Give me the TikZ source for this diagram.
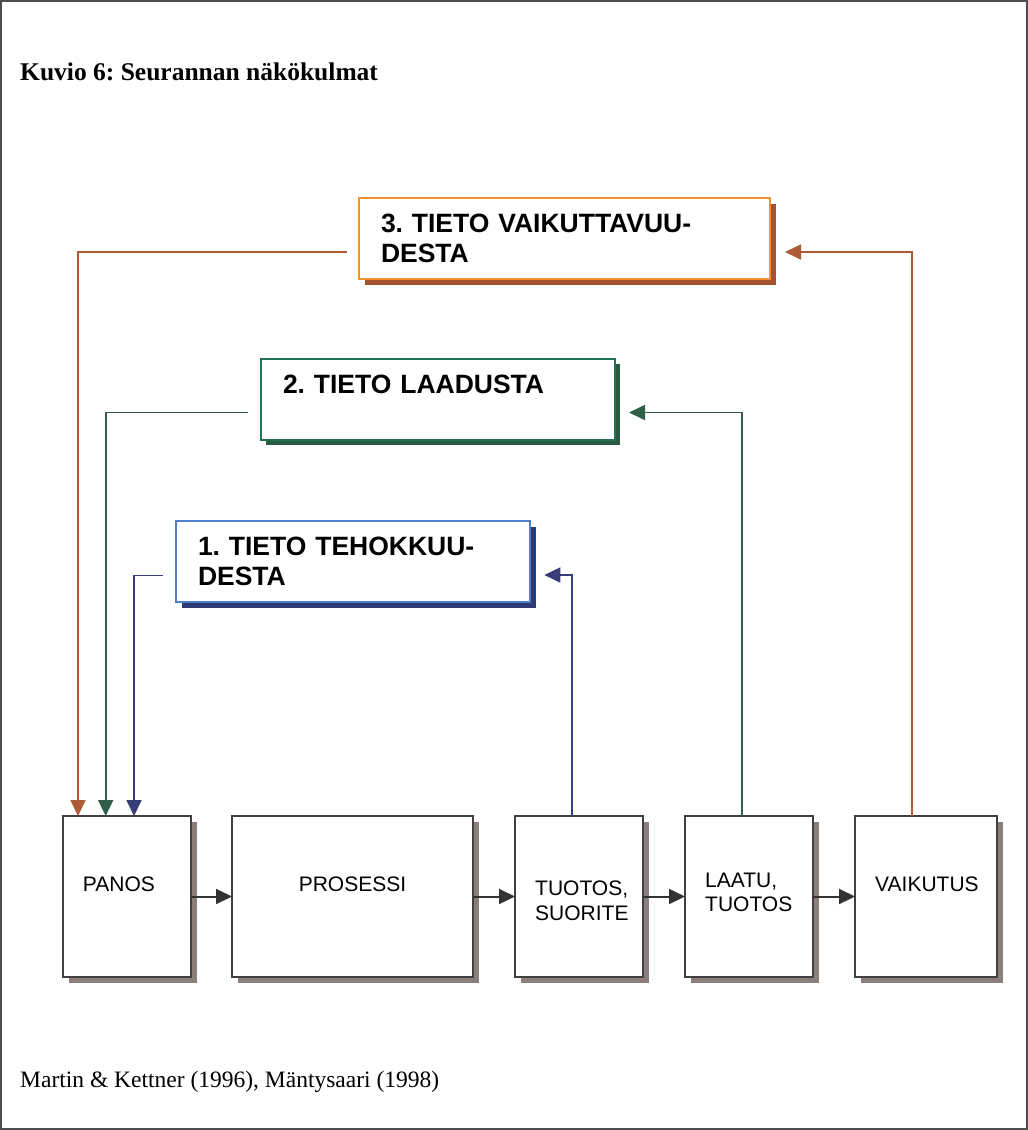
\documentclass[tikz,border=0pt]{standalone}
\usepackage{fontspec}
\setmainfont{Liberation Serif}
\setsansfont{Liberation Sans}
\usetikzlibrary{arrows.meta,shadows}
\frenchspacing

\definecolor{kehys}{HTML}{4D4D4D}
\definecolor{reuna}{HTML}{404040}
\definecolor{varjo}{HTML}{8C7F7B}
\definecolor{nuolenvari}{HTML}{333333}
\definecolor{oranssi}{HTML}{F39030}
\definecolor{oranssivarjo}{HTML}{A5532F}
\definecolor{oranssiviiva}{HTML}{AD5A36}
\definecolor{vihrea}{HTML}{1F7352}
\definecolor{vihreavarjo}{HTML}{2B5A43}
\definecolor{vihreaviiva}{HTML}{2F5E4A}
\definecolor{sininen}{HTML}{5080C8}
\definecolor{sininenvarjo}{HTML}{303A72}
\definecolor{sininenviiva}{HTML}{363D78}

\begin{document}
\begin{tikzpicture}[x=1pt, y=-1pt, >={Triangle[length=16pt,width=15pt]},
  laatikko/.style={draw=reuna, line width=2pt, fill=white, outer sep=0pt, anchor=north west,
    minimum height=161pt, drop shadow={shadow xshift=5.5pt, shadow yshift=-5.5pt, fill=varjo, opacity=1}},
  teksti/.style={font=\sffamily\fontsize{21}{24.5}\selectfont, inner sep=0pt, align=left},
  tieto/.style={line width=2pt, fill=white, outer sep=0pt, anchor=north west, inner xsep=22pt,
    align=left, minimum height=81pt, font=\sffamily\bfseries\fontsize{26.5}{30}\selectfont},
  nuoli/.style={draw=nuolenvari, line width=2pt, ->},
  yhteys/.style={line width=1.7pt, ->}]
 \useasboundingbox (0,0) rectangle (1028,1130);
 \draw[kehys, line width=1.5pt] (1,1) rectangle (1027,1129);
 \node[anchor=base west, inner sep=0pt, font=\bfseries\fontsize{25.5}{30}\selectfont] (otsikko) at (20,80) {Kuvio 6: Seurannan näkökulmat};
 \node[anchor=base west, inner sep=0pt, font=\fontsize{23.5}{28}\selectfont] (lahde) at (20,1087) {Martin \& Kettner (1996), Mäntysaari (1998)};

 \node[tieto, draw=oranssi, drop shadow={shadow xshift=6pt, shadow yshift=-6pt, fill=oranssivarjo, opacity=1},
   minimum width=411pt, text width=367pt] (vaikuttavuus) at (359,198) {3. TIETO VAIKUTTAVUU-\\DESTA};
 \node[tieto, draw=vihrea, drop shadow={shadow xshift=5pt, shadow yshift=-5pt, fill=vihreavarjo, opacity=1},
   minimum width=354pt, text width=310pt, text depth=30pt] (laadusta) at (261,359) {2. TIETO LAADUSTA};
 \node[tieto, draw=sininen, drop shadow={shadow xshift=5.5pt, shadow yshift=-5.5pt, fill=sininenvarjo, opacity=1},
   minimum width=354pt, text width=310pt] (tehokkuus) at (176,521) {1. TIETO TEHOKKUU-\\DESTA};

 \node[laatikko, minimum width=128pt] (panos) at (63,816) {};
 \node[laatikko, minimum width=241pt] (prosessi) at (232,816) {};
 \node[laatikko, minimum width=128pt] (tuotos) at (515,816) {};
 \node[laatikko, minimum width=128pt] (laatu) at (685,816) {};
 \node[laatikko, minimum width=142pt] (vaikutus) at (855,816) {};
 \node[teksti, anchor=north west] (panosteksti) at (82.7,876.7) {PANOS};
 \node[teksti, anchor=north] (prosessiteksti) at (352.5,876.7) {PROSESSI};
 \node[teksti, anchor=north west] (tuotosteksti) at (535,880.7) {TUOTOS,\\SUORITE};
 \node[teksti, anchor=north west] (laatuteksti) at (705,872.7) {LAATU,\\TUOTOS};
 \node[teksti, anchor=north west] (vaikutusteksti) at (875,876.7) {VAIKUTUS};

 \foreach \a/\b in {panos/prosessi, prosessi/tuotos, tuotos/laatu, laatu/vaikutus}
  \draw[nuoli] (\a) -- (\b);

 \draw[yhteys, oranssiviiva, shorten >=15pt] ([xshift=-14pt]vaikutus.north) |- ([yshift=-13.5pt]vaikuttavuus.east);
 \draw[yhteys, oranssiviiva, shorten <=12pt] ([yshift=-13.5pt]vaikuttavuus.west) -| ([xshift=-49pt]panos.north);
 \draw[yhteys, vihreaviiva, shorten >=14pt] ([xshift=-7pt]laatu.north) |- ([yshift=-13pt]laadusta.east);
 \draw[yhteys, vihreaviiva, shorten <=13.5pt] ([yshift=-13pt]laadusta.west) -| ([xshift=-21.3pt]panos.north);
 \draw[yhteys, sininenviiva, shorten >=14.3pt] ([xshift=-7pt]tuotos.north) |- ([yshift=-13.5pt]tehokkuus.east);
 \draw[yhteys, sininenviiva, shorten <=13pt] ([yshift=-14pt]tehokkuus.west) -| ([xshift=7pt]panos.north);
\end{tikzpicture}
\end{document}
